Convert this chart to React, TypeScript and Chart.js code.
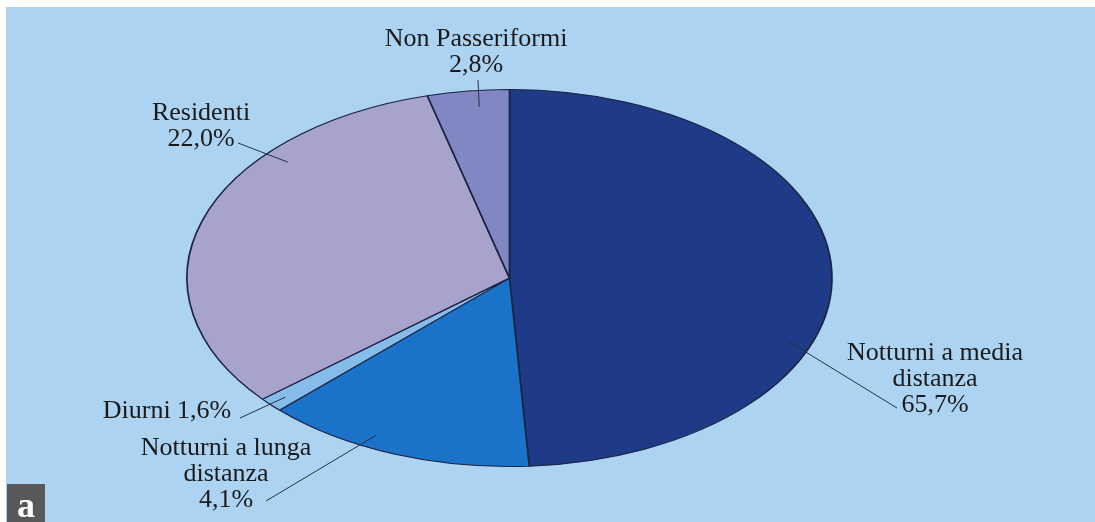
import { useEffect, useRef } from "react";
import { Chart, registerables } from "chart.js";

Chart.register(...registerables);

// ---- data ----
const categories = [
  "Notturni a media distanza",
  "Notturni a lunga distanza",
  "Diurni",
  "Residenti",
  "Non Passeriformi",
];
// slice sizes as drawn in the picture (share of the full turn, %)
const sliceShares = [49.0, 13.6, 1.25, 32.0, 4.1];
// percentages printed in the labels
const labelPercents = ["65,7%", "4,1%", "1,6%", "22,0%", "2,8%"];
// text lines of each label
const labelLines = [
  ["Notturni a media", "distanza", labelPercents[0]],
  ["Notturni a lunga", "distanza", labelPercents[1]],
  ["Diurni " + labelPercents[2]],
  ["Residenti", labelPercents[3]],
  ["Non Passeriformi", labelPercents[4]],
];
const sliceColors = ["#1f3b88", "#1b73c9", "#86bce9", "#a7a3cd", "#8087c3"];

// ---- layout / style ----
const W = 1095;
const H = 522;
const SX = 322.5 / 188.5; // horizontal stretch turning the circle into an ellipse
const BG = "#acd3f1";
const FONT = "26px 'Liberation Serif', 'Times New Roman', serif";
// text anchors: center x, first baseline y
const textPos = [
  [935, 360],
  [226, 455],
  [167, 418],
  [201, 120],
  [476, 46],
];
// leader line: inner point as fraction along slice angle and radius, outer end in px
const leaderInner = [
  [0.63, 0.926],
  [0.61, 0.931],
  [0.5, 0.94],
  [0.71, 0.922],
  [0.6, 0.912],
];
const leaderOuter = [
  [897, 408],
  [266, 501],
  [240, 418],
  [238, 143],
  [478, 80],
];

const bgPlugin = {
  id: "bgPlugin",
  beforeDraw(chart: any) {
    const ctx = chart.ctx;
    ctx.save();
    ctx.fillStyle = "#ffffff";
    ctx.fillRect(0, 0, W, H);
    ctx.fillStyle = BG;
    ctx.fillRect(6, 7, W - 6, H - 7);
    ctx.restore();
  },
};

const ellipsePlugin = {
  id: "ellipsePlugin",
  beforeDatasetsDraw(chart: any) {
    const el = chart.getDatasetMeta(0).data[0];
    const ctx = chart.ctx;
    ctx.save();
    ctx.translate(el.x, el.y);
    ctx.scale(SX, 1);
    ctx.translate(-el.x, -el.y);
  },
  afterDatasetsDraw(chart: any) {
    chart.ctx.restore();
  },
};

const labelPlugin = {
  id: "labelPlugin",
  afterDraw(chart: any) {
    const ctx = chart.ctx;
    const meta = chart.getDatasetMeta(0);
    ctx.save();
    // leader lines
    ctx.strokeStyle = "#26304a";
    ctx.lineWidth = 1;
    meta.data.forEach((el: any, i: number) => {
      const [t, rf] = leaderInner[i];
      const a = el.startAngle + t * (el.endAngle - el.startAngle);
      const px = el.x + SX * el.outerRadius * rf * Math.cos(a);
      const py = el.y + el.outerRadius * rf * Math.sin(a);
      ctx.beginPath();
      ctx.moveTo(px, py);
      ctx.lineTo(leaderOuter[i][0], leaderOuter[i][1]);
      ctx.stroke();
    });
    // texts
    ctx.fillStyle = "#1a1a1a";
    ctx.font = FONT;
    ctx.textAlign = "center";
    ctx.textBaseline = "alphabetic";
    labelLines.forEach((lines, i) => {
      const [x, y] = textPos[i];
      lines.forEach((ln, k) => ctx.fillText(ln, x, y + k * 26));
    });
    // panel letter
    ctx.fillStyle = "#585858";
    ctx.fillRect(7, 484, 38, 38);
    ctx.fillStyle = "#ffffff";
    ctx.font = "bold 36px 'Liberation Serif', 'Times New Roman', serif";
    ctx.fillText("a", 26, 517);
    ctx.restore();
  },
};

export default function App() {
  const ref = useRef<HTMLCanvasElement | null>(null);
  useEffect(() => {
    if (!ref.current) return;
    const chart = new Chart(ref.current, {
      type: "pie",
      data: {
        labels: categories,
        datasets: [
          {
            data: sliceShares,
            backgroundColor: sliceColors,
            borderColor: "#1c2444",
            borderWidth: 1,
          },
        ],
      },
      options: {
        animation: false,
        responsive: false,
        devicePixelRatio: 1,
        layout: { padding: { top: 89, bottom: 55, left: 100, right: 176 } },
        plugins: {
          legend: { display: false },
          tooltip: { enabled: false },
        },
      },
      plugins: [bgPlugin, ellipsePlugin, labelPlugin],
    });
    return () => chart.destroy();
  }, []);
  return (
    <div style={{ position: "fixed", left: 0, top: 0, width: W, height: H }}>
      <canvas ref={ref} width={W} height={H} style={{ display: "block" }} />
    </div>
  );
}
